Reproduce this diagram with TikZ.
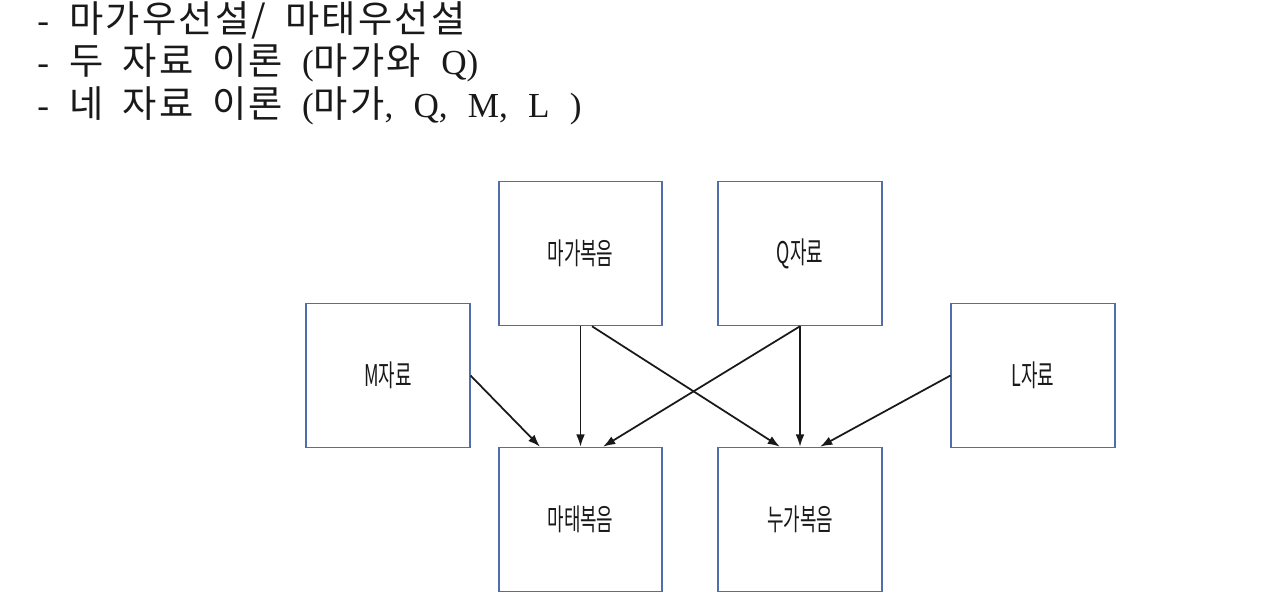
\documentclass[tikz,border=0pt]{standalone}
\usepackage{fontspec}
\setmainfont{Liberation Serif}[WordSpace=2.3]
\newfontfamily\kr{Noto Sans CJK KR}[Scale=1.06, WordSpace=1.8, LetterSpace=6]
\newfontfamily\krbox{Noto Sans CJK KR}[FakeStretch=0.6]
\usetikzlibrary{arrows.meta}
\definecolor{cBox}{RGB}{79,110,170}
\definecolor{cInk}{RGB}{25,25,25}

\begin{document}
\begin{tikzpicture}[
  x=0.02cm, y=-0.02cm, color=cInk,
  src/.style={draw=cBox, line width=0.9pt, minimum width=3.27cm,
              minimum height=2.88cm, inner sep=0pt, text=cInk,
              font=\krbox\fontsize{17}{19}\selectfont},
  note/.style={anchor=west, inner sep=0pt, font=\fontsize{20}{24}\selectfont},
  arr/.style={-{Latex[length=7pt,width=5pt]}, line width=1pt},
]
\useasboundingbox (0,0) rectangle (1280,612);

% notes above the chart
\node[note] (t1) at (37,20)  {- {\kr 마가우선설/ 마태우선설}};
\node[note] (t2) at (37,63)  {- {\kr 두 자료 이론 }({\kr 마가와} Q)};
\node[note] (t3) at (37,106) {- {\kr 네 자료 이론 }({\kr 마가}, Q, M, L )};

% sources: rows 253.5 / 375.5 / 519.5
\node[src] (mk) at (580.5,253.5) {마가복음};
\node[src] (q)  at (800,253.5)   {Q자료};
\node[src] (m)  at (388,375.5)   {M자료};
\node[src] (l)  at (1033,375.5)  {L자료};
\node[src] (mt) at (580.5,519.5) {마태복음};
\node[src] (nk) at (800,519.5)   {누가복음};

% ----- into Matthew -----------------------------------------------------
\draw[arr] (m.east) -- ([xshift=-0.81cm]mt.north);
\draw[arr] (mk.south) -- (mt.north);
\draw[arr] (q.south) -- ([xshift=0.45cm]mt.north);

% ----- into Luke --------------------------------------------------------
\draw[arr] ([xshift=0.23cm]mk.south) -- ([xshift=-0.4cm]nk.north);
\draw[arr] (q.south) -- (nk.north);
\draw[arr] (l.west) -- ([xshift=0.4cm]nk.north);

\end{tikzpicture}
\end{document}
